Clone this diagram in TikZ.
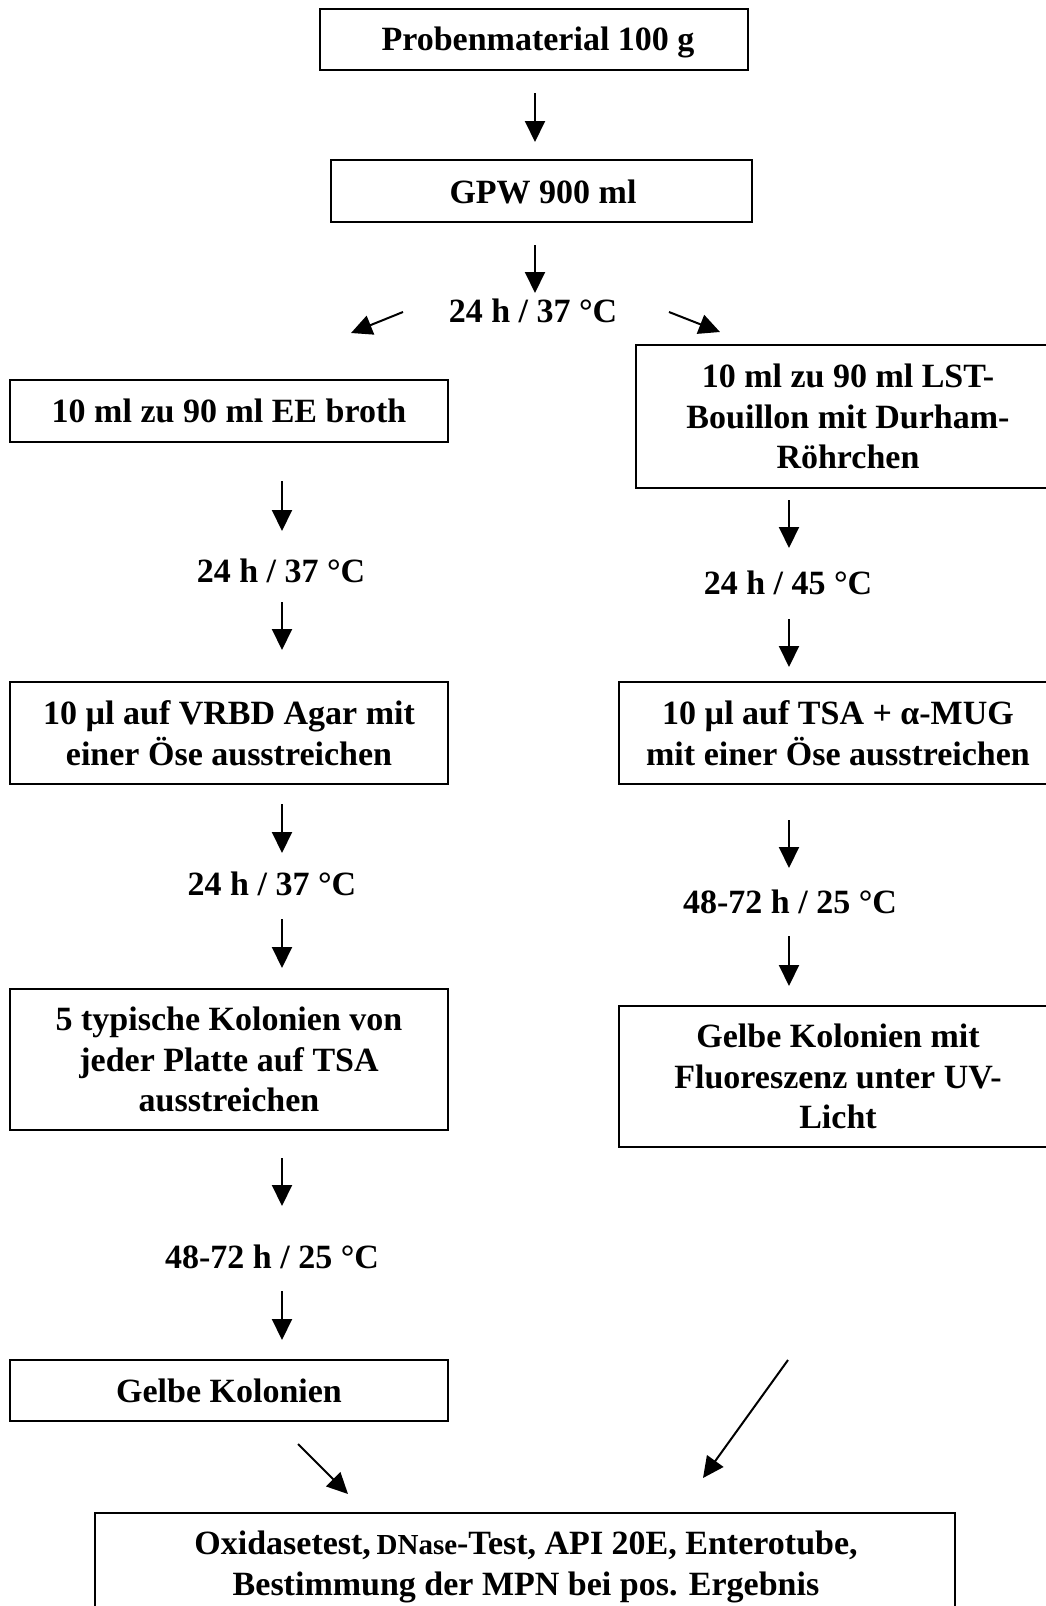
\documentclass[tikz,border=0pt]{standalone}
\usepackage{fontspec}
\setmainfont{Liberation Serif}
\usetikzlibrary{arrows.meta}
\tikzset{
  box/.style={draw, line width=1.6pt, rectangle, inner sep=0pt, align=center,
    font=\fontsize{34}{40.5}\selectfont\bfseries},
  lbl/.style={inner sep=0pt, font=\fontsize{34}{40.5}\selectfont\bfseries},
  arr/.style={line width=2pt, -{Triangle[width=20pt,length=21pt]}}
}
\begin{document}
\begin{tikzpicture}[x=1pt,y=-1pt]
\clip (0,0) rectangle (1046,1606);
\fill[white] (0,0) rectangle (1046,1606);
% boxes
\node[box, minimum width=428, minimum height=61] (b1) at (534,39.5) {};
\node[lbl] (b1t) at (538,42.5) {Probenmaterial 100 g};
\node[box, minimum width=421, minimum height=62] (b2) at (541.5,191) {};
\node[lbl] (b2t) at (543,192) {GPW 900 ml};
\node[box, minimum width=438, minimum height=62] (l1) at (229,411) {10 ml zu 90 ml EE broth};
\node[box, minimum width=424, minimum height=143] (r1) at (848,416.5) {10 ml zu 90 ml LST-\\Bouillon mit Durham-\\Röhrchen};
\node[box, minimum width=438, minimum height=102] (l2) at (229,733) {10 µl auf VRBD Agar mit\\einer Öse ausstreichen};
\node[box, minimum width=438, minimum height=102] (r2) at (838,733) {10 µl auf TSA + α-MUG\\mit einer Öse ausstreichen};
\node[box, minimum width=438, minimum height=141] (l3) at (229,1059.5) {5 typische Kolonien von\\jeder Platte auf TSA\\ausstreichen};
\node[box, minimum width=438, minimum height=141] (r3) at (838,1076.5) {Gelbe Kolonien mit\\Fluoreszenz unter UV-\\Licht};
\node[box, minimum width=438, minimum height=61] (l4) at (229,1390.5) {Gelbe Kolonien};
\node[box, minimum width=860, minimum height=140, anchor=north] (b3) at (525,1512) {};
\node[lbl, align=center] (b3t) at (526,1567) {Oxidasetest,\,{\fontsize{29}{40.5}\selectfont DNase}-Test, API 20E, Enterotube,\\Bestimmung der MPN bei pos. Ergebnis};
% labels
\node[lbl] (t1) at (533,311) {24 h / 37 °C};
\node[lbl] (tl1) at (281,571) {24 h / 37 °C};
\node[lbl] (tl2) at (272,884) {24 h / 37 °C};
\node[lbl] (tl3) at (272,1257) {48-72 h / 25 °C};
\node[lbl] (tr1) at (788,583) {24 h / 45 °C};
\node[lbl] (tr2) at (790,902) {48-72 h / 25 °C};
% arrow coordinates
\coordinate (a1s) at (535,93);   \coordinate (a1e) at (535,142);
\coordinate (a2s) at (535,245);  \coordinate (a2e) at (535,293);
\coordinate (aLs) at (403,312);  \coordinate (aLe) at (351,333);
\coordinate (aRs) at (669,312);  \coordinate (aRe) at (720,332);
\coordinate (l1s) at (282,481);  \coordinate (l1e) at (282,531);
\coordinate (l2s) at (282,602);  \coordinate (l2e) at (282,650);
\coordinate (l3s) at (282,804);  \coordinate (l3e) at (282,853);
\coordinate (l4s) at (282,919);  \coordinate (l4e) at (282,968);
\coordinate (l5s) at (282,1158); \coordinate (l5e) at (282,1206);
\coordinate (l6s) at (282,1291); \coordinate (l6e) at (282,1340);
\coordinate (r1s) at (789,500);  \coordinate (r1e) at (789,548);
\coordinate (r2s) at (789,619);  \coordinate (r2e) at (789,667);
\coordinate (r3s) at (789,820);  \coordinate (r3e) at (789,868);
\coordinate (r4s) at (789,936);  \coordinate (r4e) at (789,986);
\coordinate (d1s) at (298,1444); \coordinate (d1e) at (348,1494);
\coordinate (d2s) at (788,1360); \coordinate (d2e) at (703,1478);
\foreach \a in {a1,a2,aL,aR,l1,l2,l3,l4,l5,l6,r1,r2,r3,r4,d1,d2}
  \draw[arr] (\a s) -- (\a e);
\end{tikzpicture}
\end{document}
